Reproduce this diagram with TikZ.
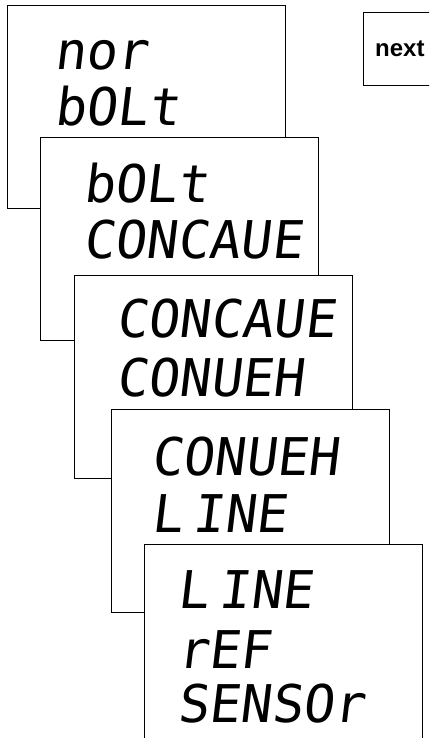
\documentclass[tikz,border=0pt]{standalone}
\usepackage{fontspec}
\newfontfamily\segfont[FakeSlant=0.12]{DejaVu Sans Mono}
\newfontfamily\labelfont{Liberation Sans}
\tikzset{
  panel/.style={draw=black, fill=white, line width=0.8pt, minimum width=278pt, minimum height=203pt, anchor=north west, inner sep=0pt},
  seg/.style={anchor=base west, inner sep=0pt, font=\segfont\fontsize{52}{52}\selectfont},
  nextbox/.style={draw=black, fill=white, line width=0.9pt, minimum width=85pt, minimum height=73pt, anchor=north west, inner sep=0pt},
  nextlabel/.style={anchor=base west, inner sep=0pt, font=\labelfont\bfseries\fontsize{24}{24}\selectfont}
}
\begin{document}
\begin{tikzpicture}[x=1pt, y=-1pt]
\useasboundingbox (0,0) rectangle (429,738);
\clip (0,0) rectangle (429,738);
\fill[white] (0,0) rectangle (429,738);
% next box
\node[nextbox] (nb) at (363,12) {};
\node[nextlabel] (nt) at (375,57) {next};
% panel 1
\node[panel] (p1) at (7,5) {};
\node[seg] (t1a) at (54,70) {nor};
\node[seg] (t1b) at (54,126) {bOLt};
% panel 2
\node[panel] (p2) at (40,137) {};
\node[seg] (t2a) at (83,202) {bOLt};
\node[seg] (t2b) at (83,258) {CONCAUE};
% panel 3
\node[panel] (p3) at (74,275) {};
\node[seg] (t3a) at (116,337) {CONCAUE};
\node[seg] (t3b) at (116,396) {CONUEH};
% panel 4
\node[panel] (p4) at (111,409) {};
\node[seg] (t4a) at (151,475) {CONUEH};
\node[seg] (t4b) at (151,532) {L\hspace{0.2em}INE};
% panel 5 (runs past the bottom edge)
\node[panel, minimum height=230pt] (p5) at (144,544) {};
\node[seg] (t5a) at (177,608) {L\hspace{0.2em}INE};
\node[seg] (t5b) at (177,668) {rEF};
\node[seg] (t5c) at (177,722) {SENSOr};
\end{tikzpicture}
\end{document}
